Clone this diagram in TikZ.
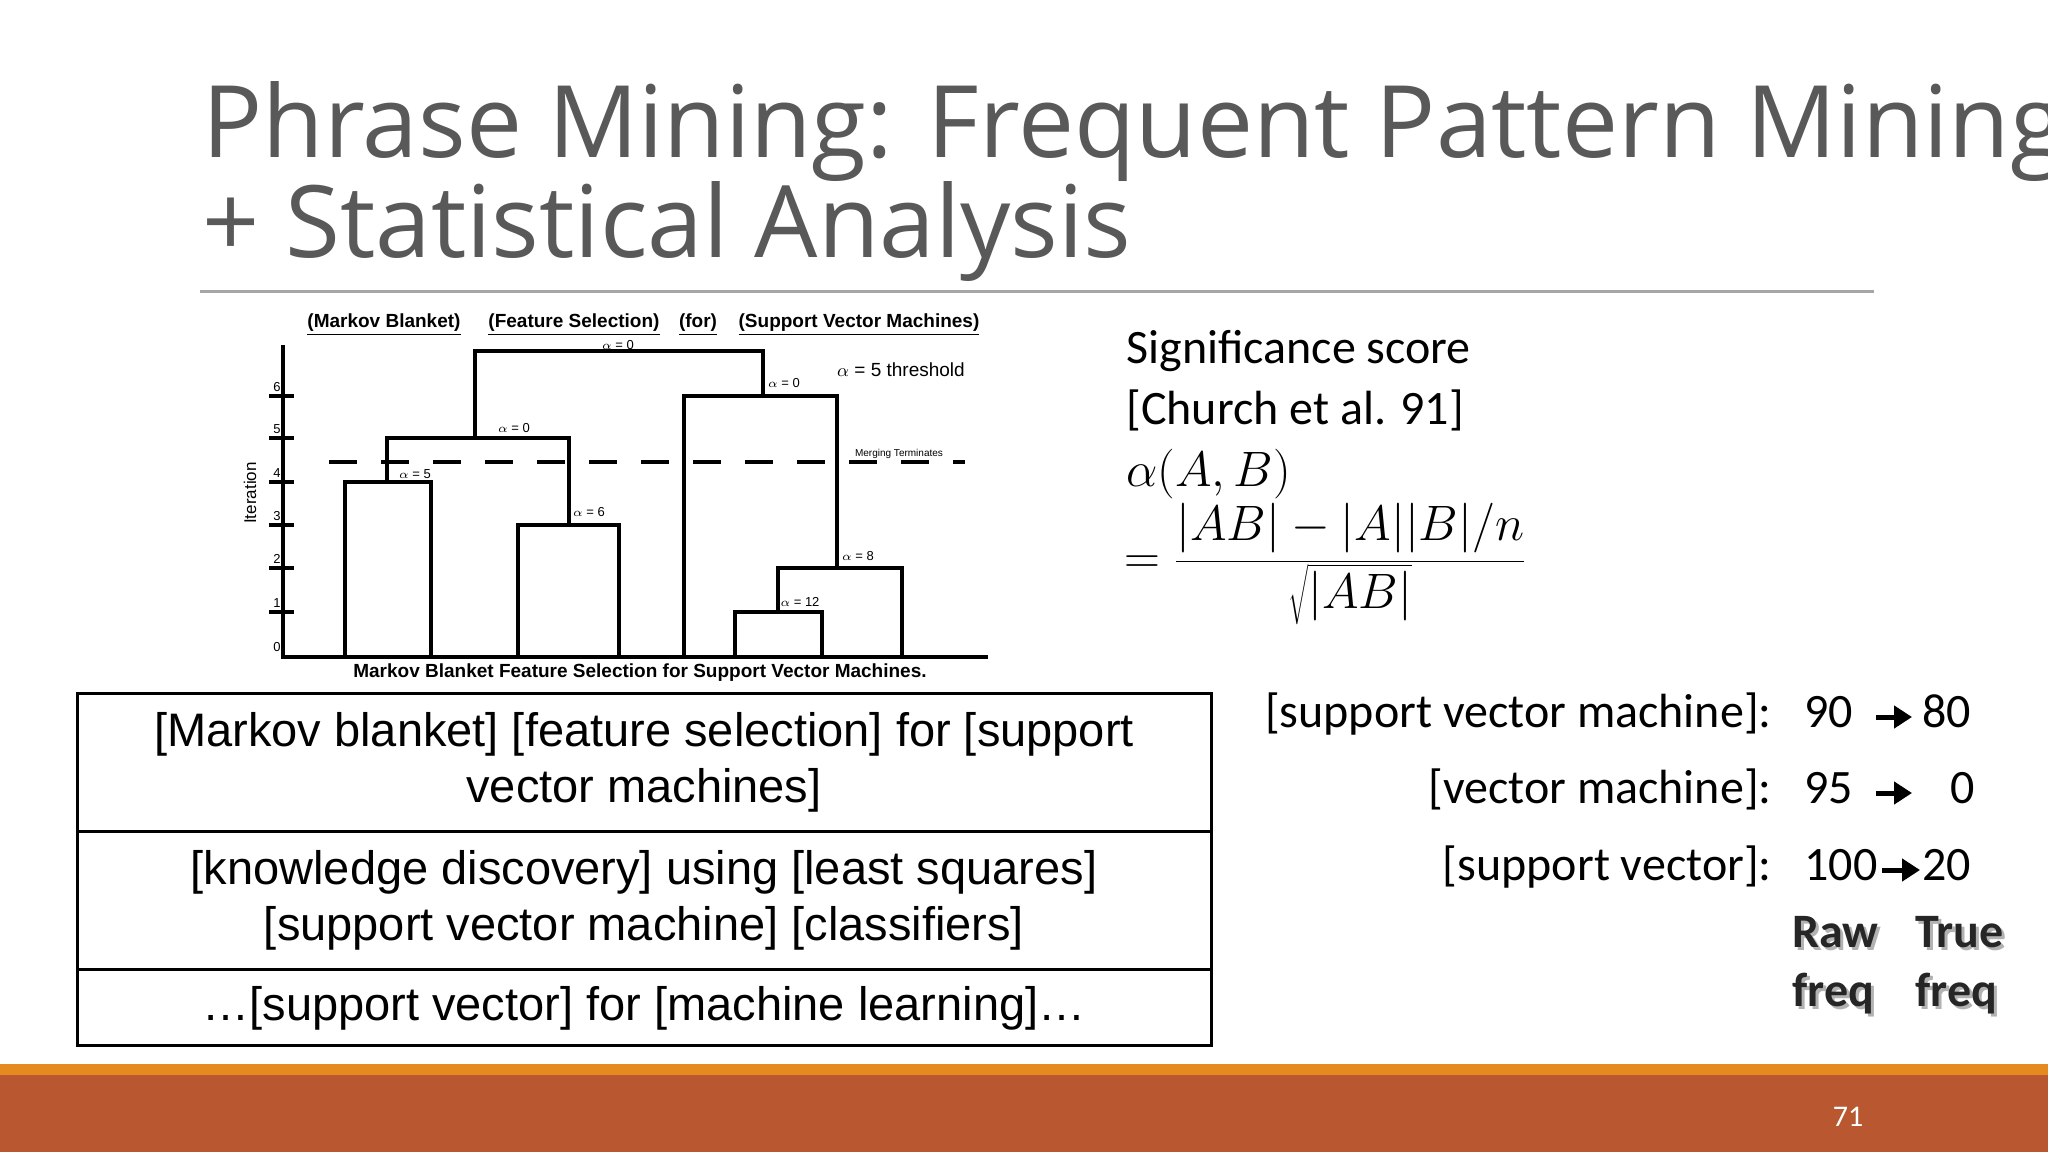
\documentclass[tikz,border=0pt]{standalone}
\usepackage{fontspec}
\setmainfont{Liberation Sans}
\newfontfamily\titlefont{Open Sans}
\newfontfamily\califont{Carlito}
\usetikzlibrary{arrows.meta}
\definecolor{titlegray}{HTML}{595959}
\definecolor{bandorange}{HTML}{E48A1E}
\definecolor{banddark}{HTML}{B85730}
\tikzset{
 ttl/.style={anchor=base west,inner sep=0,text=titlegray,font=\titlefont\fontsize{50}{60}\selectfont},
 dlab/.style={inner sep=0,font=\fontsize{6.5}{8}\selectfont},
 dhead/.style={inner sep=0,font=\bfseries\fontsize{9.5}{11}\selectfont},
 dline/.style={line width=1.6},
 cell/.style={inner sep=0,align=center,font=\fontsize{23.5}{28}\selectfont},
 rt/.style={inner sep=0,font=\califont\fontsize{24}{29}\selectfont},
 freqarrow/.style={-{Triangle[length=9,width=11]},line width=2.5},
}
\begin{document}
\begin{tikzpicture}[x=0.5pt,y=-0.5pt]
\useasboundingbox (0,0) rectangle (2048,1152);
\fill[white] (0,0) rectangle (2048,1152);
% title
\node[ttl] (t1) at (202,157) {Phrase Mining: Frequent Pattern Mining};
\node[ttl] (t2) at (202,257) {+ Statistical Analysis};
\draw[gray!70,line width=1.5] (200,291) -- (1874,291);
% bands
\fill[bandorange] (0,1064) rectangle (2048,1075);
\fill[banddark] (0,1075) rectangle (2048,1152);
\node[text=white,font=\califont\fontsize{15}{18}\selectfont] (pg) at (1848,1117) {71};
% dendrogram
\draw[dline] (283,345) -- (283,657) -- (988,657);
\foreach \y/\n in {612/1,568/2,525/3,482/4,438/5,396/6}{
 \draw[dline] (269,\y) -- (294,\y);
 \node[dlab,anchor=south] at (277,\y-4) {\n};}
\node[dlab,anchor=south] at (277,652) {0};
\node[rotate=90,inner sep=0,font=\fontsize{8.5}{10}\selectfont] (iter) at (250,493) {Iteration};
\draw[dline] (345,657) -- (345,482) -- (431,482) -- (431,657);
\draw[dline] (518,657) -- (518,525) -- (619,525) -- (619,657);
\draw[dline] (387,482) -- (387,438) -- (569,438) -- (569,525);
\draw[dline] (735,657) -- (735,612) -- (822,612) -- (822,657);
\draw[dline] (778,612) -- (778,568) -- (902,568) -- (902,657);
\draw[dline] (684,657) -- (684,396) -- (837,396) -- (837,568);
\draw[dline] (475,438) -- (475,351) -- (763,351) -- (763,396);
\draw[dline,dash pattern=on 14 off 12] (329,462) -- (965,462);
\node[dlab] at (415,474) {$\alpha$ = 5};
\node[dlab] at (589,512) {$\alpha$ = 6};
\node[dlab] at (514,428) {$\alpha$ = 0};
\node[dlab] at (800,602) {$\alpha$ = 12};
\node[dlab] at (858,556) {$\alpha$ = 8};
\node[dlab] at (784,383) {$\alpha$ = 0};
\node[dlab] at (618,345) {$\alpha$ = 0};
\node[inner sep=0,font=\fontsize{5}{6}\selectfont] at (899,454) {Merging Terminates};
\node[inner sep=0,font=\fontsize{9.5}{11}\selectfont] at (901,370) {$\alpha$ = 5 threshold};
\node[dhead] at (384,325) {\underline{(Markov Blanket)}};
\node[dhead] at (574,325) {\underline{(Feature Selection)}};
\node[dhead] at (698,325) {\underline{(for)}};
\node[dhead] at (859,325) {\underline{(Support Vector Machines)}};
\node[dhead] at (640,673) {Markov Blanket Feature Selection for Support Vector Machines.};
% table
\draw[line width=1.5] (77,693) rectangle (1211,1045);
\draw[line width=1.5] (77,831) -- (1211,831);
\draw[line width=1.5] (77,969) -- (1211,969);
\node[cell] (r1) at (644,762) {[Markov blanket] [feature selection] for [support\\{}vector machines]};
\node[cell] (r2) at (644,900) {[knowledge discovery] using [least squares]\\{}[support vector machine] [classifiers]};
\node[cell] (r3) at (644,1008) {\dots[support vector] for [machine learning]\dots};
% right text
\node[rt,anchor=base west] (s1) at (1126,363) {Significance score};
\node[rt,anchor=base west] (s2) at (1126,424) {[Church et al. 91]};
\node[rt,anchor=base west] (s3) at (1126,486) {$\alpha(A,B)$};
\node[rt,anchor=west] (s4) at (1124,564) {$\displaystyle =\frac{|AB|-|A||B|/n}{\sqrt{|AB|}}$};
\node[rt,anchor=base east] (f1) at (1772,727) {[support vector machine]:};
\node[rt,anchor=base east] (f2) at (1772,803) {[vector machine]:};
\node[rt,anchor=base east] (f3) at (1772,880) {[support vector]:};
\node[rt,anchor=base west] (a1) at (1804,727) {90};
\node[rt,anchor=base west] (b1) at (1922,727) {80};
\node[rt,anchor=base west] (a2) at (1804,803) {95};
\node[rt,anchor=base west] (b2) at (1950,803) {0};
\node[rt,anchor=base west] (a3) at (1804,880) {100};
\node[rt,anchor=base west] (b3) at (1922,880) {20};
\draw[freqarrow] (1876,717) -- (1912,717);
\draw[freqarrow] (1876,793) -- (1912,793);
\draw[freqarrow] (1882,870) -- (1920,870);
\foreach \x/\y/\t in {1792/947/Raw,1915/947/True,1792/1006/freq,1915/1006/freq}{
 \node[rt,anchor=base west,font=\califont\bfseries\fontsize{24}{29}\selectfont,text=gray!60] at (\x+3,\y+3) {\t};
 \node[rt,anchor=base west,font=\califont\bfseries\fontsize{24}{29}\selectfont,text=black!85] at (\x,\y) {\t};}
\end{tikzpicture}
\end{document}
